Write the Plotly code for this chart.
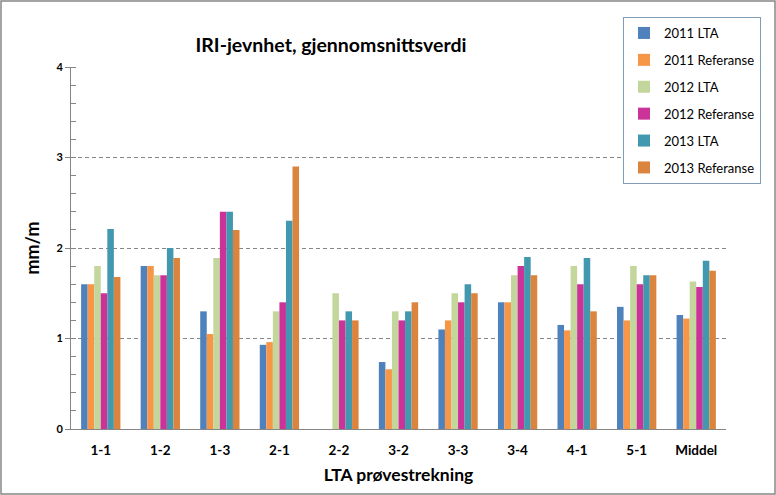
import plotly.graph_objects as go

categories = ["1-1", "1-2", "1-3", "2-1", "2-2", "3-2", "3-3", "3-4", "4-1", "5-1", "Middel"]
lta_2011 = [1.6, 1.8, 1.3, 0.93, None, 0.74, 1.1, 1.4, 1.15, 1.35, 1.26]
ref_2011 = [1.6, 1.8, 1.05, 0.96, None, 0.66, 1.2, 1.4, 1.09, 1.2, 1.22]
lta_2012 = [1.8, 1.7, 1.89, 1.3, 1.5, 1.3, 1.5, 1.7, 1.8, 1.8, 1.63]
ref_2012 = [1.5, 1.7, 2.4, 1.4, 1.2, 1.2, 1.4, 1.8, 1.6, 1.6, 1.57]
lta_2013 = [2.21, 2.0, 2.4, 2.3, 1.3, 1.3, 1.6, 1.9, 1.89, 1.7, 1.86]
ref_2013 = [1.68, 1.89, 2.2, 2.9, 1.2, 1.4, 1.5, 1.7, 1.3, 1.7, 1.75]

series = [
    ("2011 LTA", lta_2011, "#4F81BD"),
    ("2011 Referanse", ref_2011, "#F79646"),
    ("2012 LTA", lta_2012, "#C3D69B"),
    ("2012 Referanse", ref_2012, "#CC3399"),
    ("2013 LTA", lta_2013, "#4198AF"),
    ("2013 Referanse", ref_2013, "#DB843D"),
]

FONT = "Lato, 'Open Sans', sans-serif"

fig = go.Figure()
for name, vals, col in series:
    fig.add_trace(go.Bar(name=name, x=categories, y=vals, legendgroup=name,
                         marker=dict(color=col, line=dict(width=0))))

W, H = 776, 495
ml, mr, mt, mb = 71, 50, 67, 66
pw, ph = W - ml - mr, H - mt - mb

fig.update_layout(
    width=W, height=H,
    margin=dict(l=ml, r=mr, t=mt, b=mb),
    paper_bgcolor="white", plot_bgcolor="white",
    barmode="group", bargap=0.34, bargroupgap=0,
    font=dict(family=FONT, size=12, color="black"),
    title=dict(text="<b>IRI-jevnhet, gjennomsnittsverdi</b>", x=331 / W, xanchor="center",
               y=1 - 45 / H, yanchor="middle", font=dict(size=19.5, family=FONT)),
    legend=dict(x=(623 - ml) / pw, y=1 + (67 - 17) / ph, xanchor="left", yanchor="top",
                bordercolor="#7F9DB9", borderwidth=1, bgcolor="white",
                font=dict(size=13, family=FONT), tracegroupgap=7, itemsizing="constant",
                itemwidth=30),
    xaxis=dict(showline=True, linecolor="#868686", linewidth=1, ticks="",
               tickfont=dict(size=13.5, family=FONT, weight="bold"), ticklabelstandoff=9,
               title=dict(text="<b>LTA prøvestrekning</b>", font=dict(size=17.5, family=FONT), standoff=11)),
    yaxis=dict(range=[0, 4], dtick=1, showline=True, linecolor="#868686", linewidth=1,
               showgrid=True, gridcolor="#868686", griddash="4px,3px", gridwidth=1,
               zeroline=False, ticks="outside", ticklen=5, tickcolor="#868686",
               minor=dict(dtick=0.2, ticks="inside", ticklen=5, tickcolor="#868686", showgrid=False),
               tickfont=dict(size=11, family=FONT, weight="bold"),
               title=dict(text="<b>mm/m</b>", font=dict(size=18, family=FONT), standoff=12)),
)

fig.add_shape(type="rect", xref="paper", yref="paper",
              x0=(1 - ml) / pw, x1=(W - 1 - ml) / pw,
              y0=-(mb - 1) / ph, y1=1 + (mt - 1) / ph,
              line=dict(color="#868686", width=1.5), fillcolor="rgba(0,0,0,0)", layer="above")

fig.write_html("out.html", config={"displayModeBar": False},
               post_script="document.body.style.margin='0';")
